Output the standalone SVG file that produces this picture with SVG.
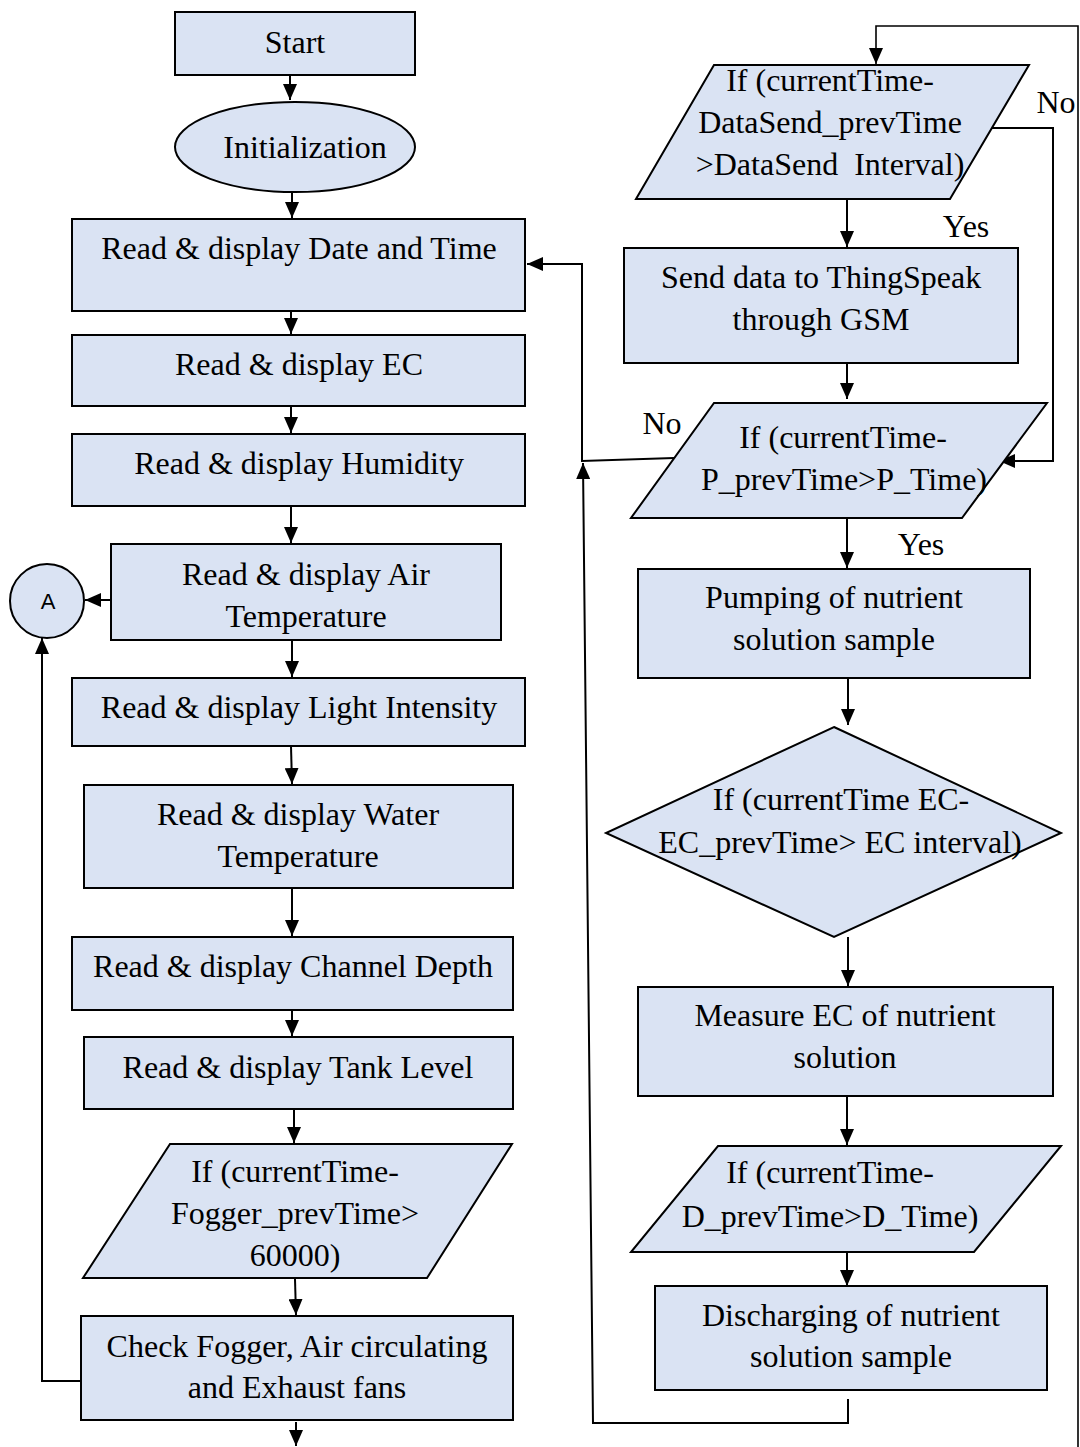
<svg xmlns="http://www.w3.org/2000/svg" width="1080" height="1447" viewBox="0 0 1080 1447">
<style>
.box{fill:#dae3f3;stroke:#000;stroke-width:2}
.t{font-family:"Liberation Serif","Times New Roman",serif;font-size:32px;text-anchor:middle;fill:#000}
.s{font-family:"Liberation Sans",Arial,sans-serif;font-size:22px;text-anchor:middle;fill:#000}
.c{fill:none;stroke:#000;stroke-width:2}
.a{fill:none;stroke:#000;stroke-width:2;marker-end:url(#ah)}
</style>
<defs>
<marker id="ah" markerWidth="16" markerHeight="14" refX="16" refY="7" orient="auto" markerUnits="userSpaceOnUse"><path d="M0,0 L16,7 L0,14 z" fill="#000"/></marker>
</defs>
<rect width="1080" height="1447" fill="#fff"/>

<g id="connectors">
<line class="a" x1="290" y1="75" x2="290" y2="100"/>
<line class="a" x1="292" y1="192" x2="292" y2="218"/>
<line class="a" x1="291" y1="311" x2="291" y2="334"/>
<line class="a" x1="291" y1="406" x2="291" y2="433"/>
<line class="a" x1="291" y1="506" x2="291" y2="543"/>
<line class="a" x1="111" y1="600" x2="85" y2="600"/>
<line class="a" x1="292" y1="640" x2="292" y2="677"/>
<line class="a" x1="291" y1="746" x2="292" y2="784"/>
<line class="a" x1="292" y1="888" x2="292" y2="936"/>
<line class="a" x1="292" y1="1010" x2="292" y2="1036"/>
<line class="a" x1="294" y1="1109" x2="294" y2="1143"/>
<line class="a" x1="295" y1="1279" x2="296" y2="1315"/>
<line class="a" x1="296" y1="1422" x2="296" y2="1446"/>
<polyline class="a" points="81,1381 42,1381 42,638"/>

<polyline class="a" style="stroke-width:1.6" points="1078,1447 1078,26 876,26 876,64"/>
<line class="a" x1="847" y1="199" x2="847" y2="247"/>
<polyline class="a" points="986,128 1053,128 1053,461 999,461"/>
<line class="a" x1="847" y1="363" x2="847" y2="399"/>
<polyline class="a" points="674,458 582,461 582,264 527,264"/>
<line class="a" x1="847" y1="518" x2="847" y2="568"/>
<line class="a" x1="848" y1="678" x2="848" y2="725"/>
<line class="a" x1="848" y1="937" x2="848" y2="986"/>
<line class="a" x1="847" y1="1096" x2="847" y2="1145"/>
<line class="a" x1="847" y1="1252" x2="847" y2="1286"/>
<polyline class="a" points="848,1399 848,1423 593,1423 583,463"/>
</g>

<g id="start"><rect class="box" x="175" y="12" width="240" height="63"/><text class="t" x="295" y="53">Start</text></g>
<g id="init"><ellipse class="box" cx="295" cy="147" rx="120" ry="45"/><text class="t" x="305" y="158">Initialization</text></g>
<g id="datetime"><rect class="box" x="72" y="219" width="453" height="92"/><text class="t" x="299" y="259">Read &amp; display Date and Time</text></g>
<g id="ec"><rect class="box" x="72" y="335" width="453" height="71"/><text class="t" x="299" y="375">Read &amp; display EC</text></g>
<g id="humidity"><rect class="box" x="72" y="434" width="453" height="72"/><text class="t" x="299" y="474">Read &amp; display Humidity</text></g>
<g id="airtemp"><rect class="box" x="111" y="544" width="390" height="96"/><text class="t" x="306" y="585">Read &amp; display Air</text><text class="t" x="306" y="627">Temperature</text></g>
<g id="connA"><circle class="box" cx="47" cy="601" r="37"/><text class="s" x="48" y="609">A</text></g>
<g id="light"><rect class="box" x="72" y="678" width="453" height="68"/><text class="t" x="299" y="718">Read &amp; display Light Intensity</text></g>
<g id="watertemp"><rect class="box" x="84" y="785" width="429" height="103"/><text class="t" x="298" y="825">Read &amp; display Water</text><text class="t" x="298" y="867">Temperature</text></g>
<g id="channel"><rect class="box" x="72" y="937" width="441" height="73"/><text class="t" x="293" y="977">Read &amp; display Channel Depth</text></g>
<g id="tank"><rect class="box" x="84" y="1037" width="429" height="72"/><text class="t" x="298" y="1078">Read &amp; display Tank Level</text></g>
<g id="fogger"><polygon class="box" points="170,1144 512,1144 427,1278 83,1278"/><text class="t" x="295" y="1182">If (currentTime-</text><text class="t" x="295" y="1224">Fogger_prevTime&gt;</text><text class="t" x="295" y="1266">60000)</text></g>
<g id="checkfogger"><rect class="box" x="81" y="1316" width="432" height="104"/><text class="t" x="297" y="1357">Check Fogger, Air circulating</text><text class="t" x="297" y="1398">and Exhaust fans</text></g>

<g id="datasend"><polygon class="box" points="714,65 1029,65 950,199 636,199"/><text class="t" x="830" y="91">If (currentTime-</text><text class="t" x="830" y="133">DataSend_prevTime</text><text class="t" x="830" y="175" xml:space="preserve">&gt;DataSend  Interval)</text></g>
<g id="sendthing"><rect class="box" x="624" y="248" width="394" height="115"/><text class="t" x="821" y="288">Send data to ThingSpeak</text><text class="t" x="821" y="330">through GSM</text></g>
<g id="ptime"><polygon class="box" points="714,403 1047,403 962,518 631,518"/><text class="t" x="843" y="448">If (currentTime-</text><text class="t" x="844" y="490">P_prevTime&gt;P_Time)</text></g>
<g id="pumping"><rect class="box" x="638" y="569" width="392" height="109"/><text class="t" x="834" y="608">Pumping of nutrient</text><text class="t" x="834" y="650">solution sample</text></g>
<g id="ecdecision"><polygon class="box" points="834,727 1061,833 834,937 606,833"/><text class="t" x="841" y="810">If (currentTime EC-</text><text class="t" x="840" y="853">EC_prevTime&gt; EC interval)</text></g>
<g id="measure"><rect class="box" x="638" y="987" width="415" height="109"/><text class="t" x="845" y="1026">Measure EC of nutrient</text><text class="t" x="845" y="1068">solution</text></g>
<g id="dtime"><polygon class="box" points="718,1146 1061,1146 974,1252 631,1252"/><text class="t" x="830" y="1183">If (currentTime-</text><text class="t" x="830" y="1227">D_prevTime&gt;D_Time)</text></g>
<g id="discharging"><rect class="box" x="655" y="1286" width="392" height="104"/><text class="t" x="851" y="1326">Discharging of nutrient</text><text class="t" x="851" y="1367">solution sample</text></g>

<g id="labels">
<text class="t" x="1056" y="113">No</text>
<text class="t" x="966" y="237">Yes</text>
<text class="t" x="662" y="434">No</text>
<text class="t" x="921" y="555">Yes</text>
</g>
</svg>
